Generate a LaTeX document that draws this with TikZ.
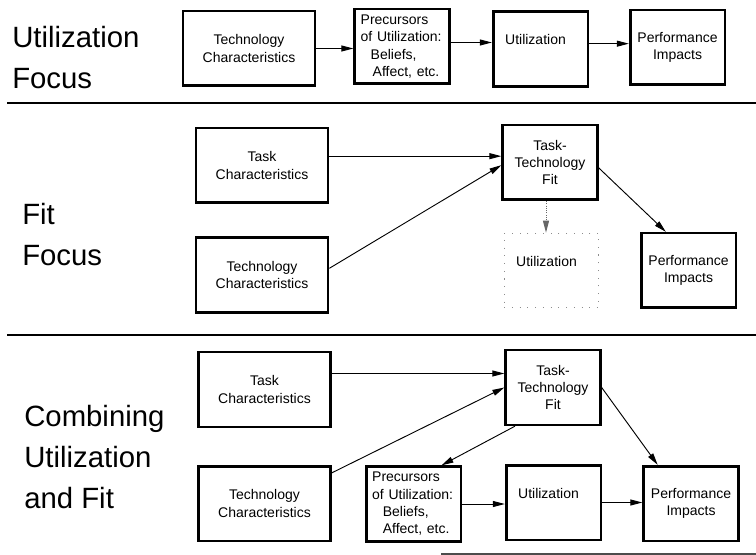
\documentclass[tikz,border=0pt]{standalone}
\usepackage{fontspec}
\setmainfont{Liberation Sans}
\usetikzlibrary{arrows.meta, positioning}

\begin{document}
\begin{tikzpicture}[
    x=0.75pt, y=-0.75pt,
    blk/.style={draw, line width=2pt, minimum width=71pt, minimum height=56pt,
        inner sep=0pt, align=center, font=\fontsize{10.5}{13}\selectfont},
    wideblk/.style={blk, minimum width=99pt},
    precblk/.style={blk, align=left, text width=62pt},
    utilblk/.style={blk, align=left, text width=53pt},
    conn/.style={-{Triangle[length=9pt, width=4.5pt]}, line width=0.7pt},
    heading/.style={anchor=west, align=left, inner sep=0pt, font=\fontsize{22}{30.75}\selectfont},
    divider/.style={line width=2pt},
]
    \useasboundingbox (0, 0) rectangle (756, 555);

    % section headings
    \node[heading] (ttl1) at (12, 57.5) {Utilization\\Focus};
    \node[heading] (ttl2) at (22, 235) {Fit\\Focus};
    \node[heading] (ttl3) at (24, 457) {Combining\\Utilization\\and Fit};

    % dividers
    \draw[divider] (7, 103) -- (756, 103);
    \draw[divider] (7, 335) -- (756, 335);
    \draw[line width=1.2pt, black!70] (441, 554) -- (756, 554);

    % utilization focus
    \node[wideblk] (t1tech) at (249, 48.5) {Technology\\Characteristics};
    \node[precblk] (t1prec) at (402, 46.5) {Precursors\\of Utilization:\\\hspace*{7.5pt}Beliefs,\\\hspace*{9pt}Affect, etc.};
    \node[utilblk] (t1util) at (540.5, 49) {\raisebox{3pt}[0pt][0pt]{Utilization}};
    \node[blk] (t1perf) at (677.5, 47.5) {Performance\\Impacts};

    \draw[conn] (t1tech.east) -- (t1tech.east -| t1prec.west);
    \draw[conn] ([yshift=3pt]t1prec.east) -- ([yshift=3pt]t1prec.east -| t1util.west);
    \draw[conn] ([yshift=4pt]t1util.east) -- ([yshift=4pt]t1util.east -| t1perf.west);

    % fit focus
    \node[wideblk] (t2task) at (262, 165.5) {Task\\Characteristics};
    \node[wideblk] (t2tech) at (262, 275) {Technology\\Characteristics};
    \node[blk] (t2ttf) at (550, 162.5) {Task-\\Technology\\Fit};
    \node[utilblk, draw=black!45, line width=0.7pt, dash pattern=on 0.8pt off 5pt]
        (t2util) at (551.5, 270.5) {\raisebox{3pt}[0pt][0pt]{Utilization}};
    \node[blk] (t2perf) at (688.5, 270.5) {Performance\\Impacts};

    \draw[conn] ([yshift=7pt]t2task.east) -- ([yshift=7pt]t2task.east -| t2ttf.west);
    \draw[conn] ([yshift=5pt]t2tech.east) -- ([yshift=-2pt]t2ttf.west);
    \draw[conn] ([yshift=-4pt]t2ttf.east) -- ([xshift=-17pt]t2perf.north);
    \draw[conn, densely dotted, black!60] ([xshift=-3pt]t2ttf.south) -- ([xshift=-3pt]t2ttf.south |- t2util.north);

    % combining utilization and fit
    \node[wideblk] (t3task) at (264.5, 389.5) {Task\\Characteristics};
    \node[blk] (t3ttf) at (553, 387.5) {Task-\\Technology\\Fit};
    \node[wideblk] (t3tech) at (264.5, 503.5) {Technology\\Characteristics};
    \node[precblk] (t3prec) at (413.5, 504) {Precursors\\of Utilization:\\\hspace*{8pt}Beliefs,\\\hspace*{8pt}Affect, etc.};
    \node[utilblk] (t3util) at (553.5, 502.5) {\raisebox{3pt}[0pt][0pt]{Utilization}};
    \node[blk] (t3perf) at (691, 503.5) {Performance\\Impacts};

    \draw[conn] ([yshift=12pt]t3task.east) -- ([yshift=12pt]t3task.east -| t3ttf.west);
    \draw[conn] ([yshift=-6pt]t3tech.north east) -- (t3ttf.west);
    \draw[conn] ([xshift=8pt]t3ttf.south west) -- ([xshift=21pt]t3prec.north);
    \draw[conn] (t3ttf.east) -- ([xshift=-25pt]t3perf.north);
    \draw[conn] (t3prec.east) -- (t3prec.east -| t3util.west);
    \draw[conn] (t3util.east) -- (t3util.east -| t3perf.west);
\end{tikzpicture}
\end{document}
